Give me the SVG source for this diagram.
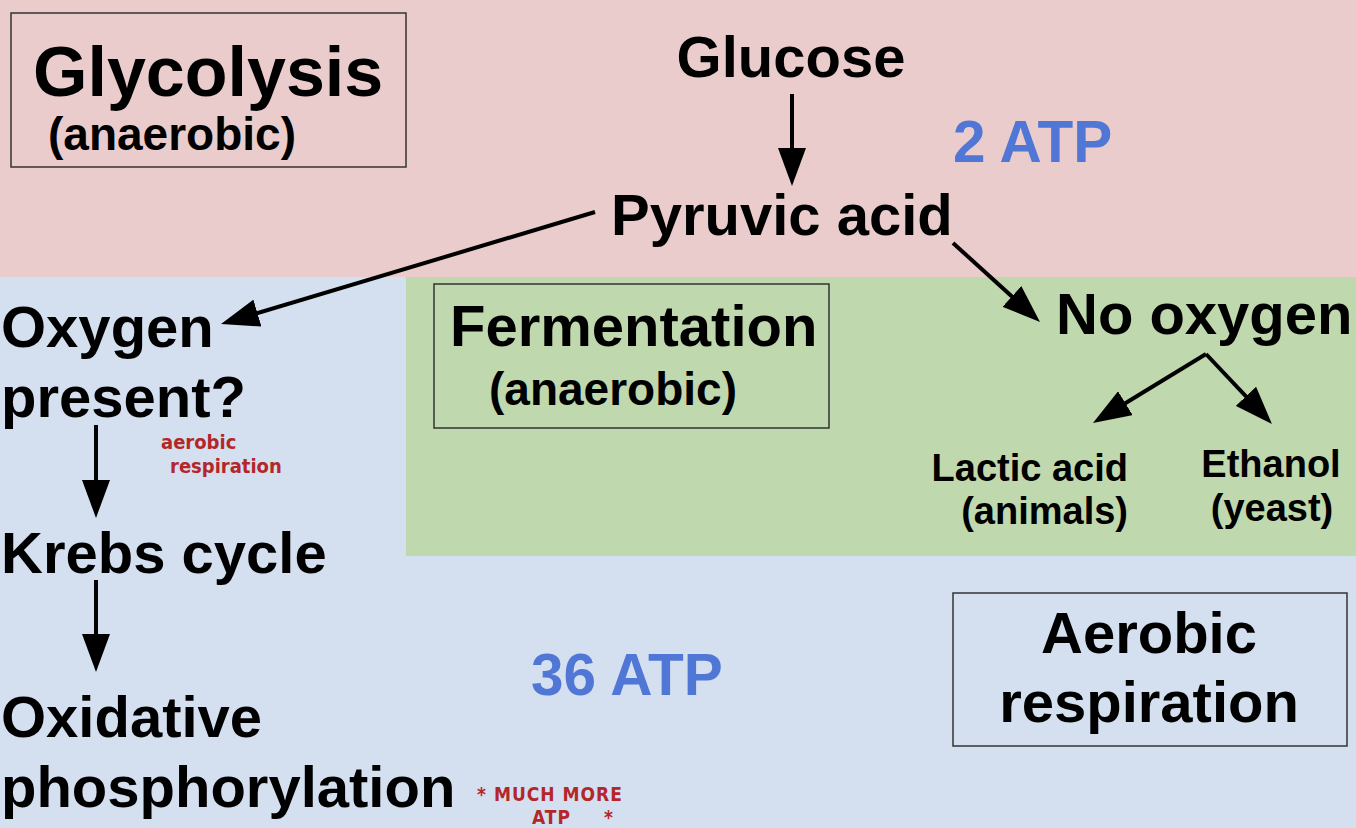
<svg xmlns="http://www.w3.org/2000/svg" width="1356" height="828" viewBox="0 0 1356 828">
<style>
.t{font-family:"Liberation Sans",Arial,sans-serif;font-weight:bold;fill:#000}
.big{font-size:58px}
.mid{font-size:46px}
.sm{font-size:38px}
.atp{font-family:"Liberation Sans",Arial,sans-serif;font-weight:bold;font-size:58.5px;fill:#5177d6}
.hand{font-family:"DejaVu Sans Condensed","DejaVu Sans",sans-serif;font-stretch:condensed;font-weight:bold;fill:#b3272a}
.box{fill:none;stroke:#333;stroke-width:1.5}
.arr{stroke:#000;stroke-width:4;fill:none;marker-end:url(#ah)}
</style>
<defs>
<marker id="ah" markerUnits="userSpaceOnUse" markerWidth="38" markerHeight="28" refX="28" refY="14" orient="auto" viewBox="0 0 38 28">
<path d="M0,0 L38,14 L0,28 z" fill="#000"/>
</marker>
</defs>
<g id="background">
<rect x="0" y="0" width="1356" height="277" fill="#ebcccd"/>
<rect x="0" y="277" width="1356" height="551" fill="#d4e0f0"/>
<rect x="406" y="277" width="950" height="279" fill="#bfd8ad"/>
</g>
<g id="glycolysis">
<rect class="box" x="11" y="13" width="395" height="154"/>
<text class="t" x="33" y="96" font-size="70">Glycolysis</text>
<text class="t mid" x="48" y="150">(anaerobic)</text>
</g>
<g id="glucose"><text class="t big" x="791" y="77" text-anchor="middle">Glucose</text></g>
<g id="atp2"><text class="atp" x="953" y="162">2 ATP</text></g>
<g id="pyruvic"><text class="t big" x="611" y="235">Pyruvic acid</text></g>
<g id="nooxygen"><text class="t big" x="1056" y="334">No oxygen</text></g>
<g id="fermentation">
<rect class="box" x="434" y="284" width="395" height="144"/>
<text class="t big" x="450" y="346">Fermentation</text>
<text class="t mid" x="489" y="405">(anaerobic)</text>
</g>
<g id="lactic">
<text class="t sm" x="1128" y="481" text-anchor="end">Lactic acid</text>
<text class="t sm" x="1128" y="524" text-anchor="end">(animals)</text>
</g>
<g id="ethanol">
<text class="t sm" x="1271" y="477" text-anchor="middle">Ethanol</text>
<text class="t sm" x="1272" y="521" text-anchor="middle">(yeast)</text>
</g>
<g id="oxygen">
<text class="t big" x="1" y="347">Oxygen</text>
<text class="t big" x="1" y="417">present?</text>
</g>
<g id="note-aerobic">
<text class="hand" x="161" y="449" font-size="20">aerobic</text>
<text class="hand" x="170" y="473" font-size="20">respiration</text>
</g>
<g id="krebs"><text class="t big" x="1" y="573">Krebs cycle</text></g>
<g id="oxidative">
<text class="t big" x="1" y="737">Oxidative</text>
<text class="t big" x="1" y="807">phosphorylation</text>
</g>
<g id="note-atp">
<text class="hand" x="477" y="801" font-size="19" letter-spacing="1">* MUCH MORE</text>
<text class="hand" x="532" y="824" font-size="19" letter-spacing="1">ATP</text>
<text class="hand" x="604" y="824" font-size="19">*</text>
</g>
<g id="atp36"><text class="atp" x="531" y="695">36 ATP</text></g>
<g id="aerobic">
<rect class="box" x="953" y="593" width="394" height="153"/>
<text class="t big" x="1149" y="653" text-anchor="middle">Aerobic</text>
<text class="t big" x="1149" y="722" text-anchor="middle">respiration</text>
</g>
<g id="connectors">
<line class="arr" x1="792" y1="94" x2="792" y2="176"/>
<line class="arr" x1="595" y1="212" x2="230.6" y2="321.1"/>
<line class="arr" x1="953" y1="243" x2="1032.6" y2="315.3"/>
<line class="arr" x1="1206" y1="354" x2="1101.5" y2="417.8"/>
<line class="arr" x1="1206" y1="354" x2="1265.1" y2="416.7"/>
<line class="arr" x1="96" y1="425" x2="96" y2="508"/>
<line class="arr" x1="96" y1="580" x2="96" y2="662"/>
</g>
</svg>
